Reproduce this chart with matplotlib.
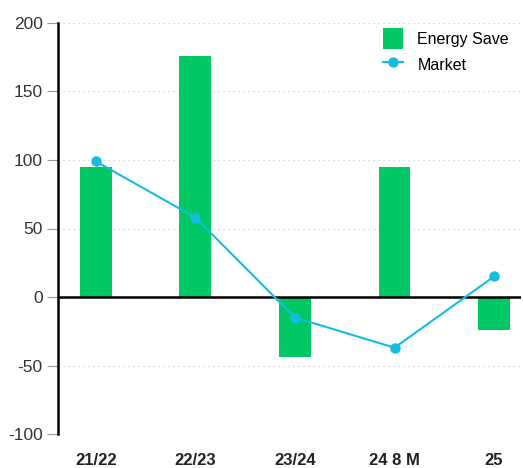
import matplotlib
matplotlib.use("Agg")
import matplotlib.pyplot as plt
from matplotlib.ticker import FixedLocator

categories = ["21/22", "22/23", "23/24", "24 8 M", "25"]
energy_save = [95, 176, -44, 95, -24]
market = [99, 58, -15, -37, 15]
yticks = [-100, -50, 0, 50, 100, 150, 200]

plt.rcParams['font.family'] = ['Liberation Sans', 'DejaVu Sans']
plt.rcParams['axes.unicode_minus'] = False

fig = plt.figure(figsize=(5.23, 4.68), dpi=100)
ax = fig.add_axes([58/523, 34/468, 463/523, 411/468])

x = list(range(len(categories)))
bars = ax.bar(x, energy_save, width=0.32, color="#00c864", label="Energy Save", zorder=2)
line, = ax.plot(x, market, color="#14bde0", marker="o", markersize=6.5, linewidth=1.5,
                label="Market", zorder=4)
ax.axhline(0, color="black", linewidth=1.8, zorder=3)

ax.set_xlim(-0.38, 4.27)
ax.set_ylim(-100, 200)
ax.yaxis.set_major_locator(FixedLocator(yticks))
ax.grid(axis="y", linestyle=(0, (1, 3)), color="#cccccc", linewidth=0.9, zorder=0)
ax.set_xticks(x)
ax.set_xticklabels(categories, fontsize=12, fontweight="bold", color="#222222")
ax.tick_params(axis="x", length=0, pad=14)
ax.tick_params(axis="y", length=8, width=0.8, color="#999999", labelsize=12.5,
               labelcolor="#333333", pad=3)

for s in ["top", "right", "bottom"]:
    ax.spines[s].set_visible(False)
ax.spines["left"].set_linewidth(1.8)
ax.spines["left"].set_color("black")

ax.legend(handles=[bars, line], loc="upper right", frameon=False, fontsize=11.5,
          handlelength=1.25, handleheight=1.6, borderaxespad=0.2, labelspacing=0.35,
          handletextpad=0.9, bbox_to_anchor=(0.995, 1.01))

fig.savefig("out.png", dpi=100)
